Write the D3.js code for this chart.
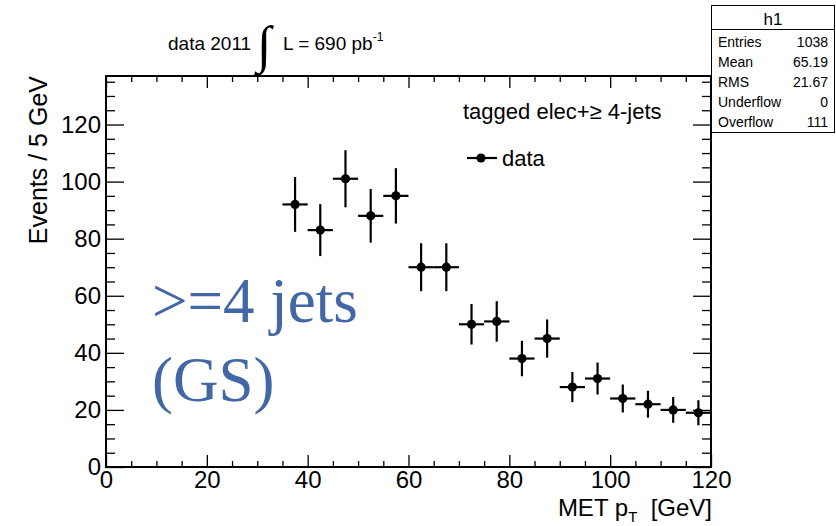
<!DOCTYPE html>
<html><head><meta charset="utf-8">
<script src="https://cdn.jsdelivr.net/npm/d3@7"></script>
<style>body{margin:0;background:#fff}svg{display:block}</style>
</head><body>
<svg id="c" width="836" height="526"></svg>
<script>
// ---- data ----
const binCenters = [37.5,42.5,47.5,52.5,57.5,62.5,67.5,72.5,77.5,82.5,87.5,92.5,97.5,102.5,107.5,112.5,117.5];
const counts     = [92,83,101,88,95,70,70,50,51,38,45,28,31,24,22,20,19];
const errors     = [9.6,9.1,10.0,9.4,9.7,8.4,8.4,7.1,7.1,6.2,6.7,5.3,5.6,4.9,4.7,4.5,4.4];
const binHalfWidth = 2.5;
const xMajorTicks = [0,20,40,60,80,100,120];
const yMajorTicks = [0,20,40,60,80,100,120];
const statLabels = ["Entries","Mean","RMS","Underflow","Overflow"];
const statValues = ["1038","65.19","21.67","0","111"];

const svg = d3.select("#c");
const F = "'Liberation Sans', Arial, Helvetica, sans-serif";
const L=106, R=711, T=76, B=467;
const x = d3.scaleLinear().domain([0,120]).range([L,R]);
const y = d3.scaleLinear().domain([0,137]).range([B,T]);

const xMinor = d3.range(0,121,5).filter(v=>v%20!==0);
const yMinor = d3.range(0,137,5).filter(v=>v%20!==0);

function styleAxis(g){ g.select(".domain").remove(); g.selectAll(".tick line").attr("stroke","#000").attr("stroke-width",1.3); g.selectAll("text").attr("font-family",F).attr("font-size",24).attr("fill","#000"); }

// bottom
svg.append("g").attr("transform",`translate(0,${B})`)
  .call(d3.axisBottom(x).tickValues(xMajorTicks).tickSizeInner(-12).tickSizeOuter(0).tickPadding(4).tickFormat(d3.format("d"))).call(styleAxis);
svg.append("g").attr("transform",`translate(0,${B})`)
  .call(d3.axisBottom(x).tickValues(xMinor).tickSizeInner(-6).tickSizeOuter(0).tickFormat("")).call(styleAxis);
// top
svg.append("g").attr("transform",`translate(0,${T})`)
  .call(d3.axisTop(x).tickValues(xMajorTicks).tickSizeInner(-12).tickSizeOuter(0).tickFormat("")).call(styleAxis);
svg.append("g").attr("transform",`translate(0,${T})`)
  .call(d3.axisTop(x).tickValues(xMinor).tickSizeInner(-6).tickSizeOuter(0).tickFormat("")).call(styleAxis);
// left
svg.append("g").attr("transform",`translate(${L},0)`)
  .call(d3.axisLeft(y).tickValues(yMajorTicks).tickSizeInner(-18).tickSizeOuter(0).tickPadding(5).tickFormat(d3.format("d"))).call(styleAxis);
svg.append("g").attr("transform",`translate(${L},0)`)
  .call(d3.axisLeft(y).tickValues(yMinor).tickSizeInner(-9).tickSizeOuter(0).tickFormat("")).call(styleAxis);
// right
svg.append("g").attr("transform",`translate(${R},0)`)
  .call(d3.axisRight(y).tickValues(yMajorTicks).tickSizeInner(-18).tickSizeOuter(0).tickFormat("")).call(styleAxis);
svg.append("g").attr("transform",`translate(${R},0)`)
  .call(d3.axisRight(y).tickValues(yMinor).tickSizeInner(-9).tickSizeOuter(0).tickFormat("")).call(styleAxis);

// frame
svg.append("rect").attr("x",L).attr("y",T).attr("width",R-L).attr("height",B-T)
  .attr("fill","none").attr("stroke","#000").attr("stroke-width",2);

// data points
const pts = binCenters.map((c,i)=>({c, v:counts[i], e:errors[i]}));
const gp = svg.append("g");
gp.selectAll(".eh").data(pts).join("line")
  .attr("x1",d=>x(d.c-binHalfWidth)).attr("x2",d=>x(d.c+binHalfWidth))
  .attr("y1",d=>y(d.v)).attr("y2",d=>y(d.v)).attr("stroke","#000").attr("stroke-width",2.2);
gp.selectAll(".ev").data(pts).join("line")
  .attr("x1",d=>x(d.c)).attr("x2",d=>x(d.c))
  .attr("y1",d=>y(d.v-d.e)).attr("y2",d=>y(d.v+d.e)).attr("stroke","#000").attr("stroke-width",2.2);
gp.selectAll("circle").data(pts).join("circle")
  .attr("cx",d=>x(d.c)).attr("cy",d=>y(d.v)).attr("r",4.6).attr("fill","#000");

// axis titles
svg.append("text").attr("transform","translate(47,76) rotate(-90)").attr("text-anchor","end")
  .attr("font-family",F).attr("font-size",25).text("Events / 5 GeV");
const xt = svg.append("text").attr("x",712).attr("y",516).attr("text-anchor","end")
  .attr("font-family",F).attr("font-size",24);
xt.append("tspan").text("MET p");
xt.append("tspan").attr("font-size",15).attr("dy",6).text("T");
xt.append("tspan").attr("dy",-6).text("\u00a0 [GeV]");

// top title
const tt = svg.append("g").attr("font-family",F);
tt.append("text").attr("x",168).attr("y",50).attr("font-size",19).text("data 2011");
tt.append("text").attr("x",257).attr("y",62).attr("font-size",52).attr("font-family","'Liberation Serif', serif").text("\u222B");
const t2 = tt.append("text").attr("x",283).attr("y",50).attr("font-size",19);
t2.append("tspan").text("L = 690 pb");
t2.append("tspan").attr("font-size",12).attr("dy",-9).text("-1");

// legend
svg.append("text").attr("x",463).attr("y",119).attr("font-family",F).attr("font-size",22).text("tagged elec+\u2265 4-jets");
svg.append("line").attr("x1",467).attr("x2",497).attr("y1",158).attr("y2",158).attr("stroke","#000").attr("stroke-width",2.2);
svg.append("circle").attr("cx",481).attr("cy",158).attr("r",4.6).attr("fill","#000");
svg.append("text").attr("x",502).attr("y",166).attr("font-family",F).attr("font-size",22).text("data");

// annotation
const ann = svg.append("g").attr("font-family","'Liberation Serif', 'Times New Roman', serif").attr("font-size",63).attr("fill","#4267a6");
ann.append("text").attr("x",152).attr("y",322).text(">=4 jets");
ann.append("text").attr("x",152).attr("y",401).text("(GS)");

// stats box
const sb = svg.append("g").attr("font-family",F);
sb.append("rect").attr("x",711.5).attr("y",5.5).attr("width",123).attr("height",127).attr("fill","#fff").attr("stroke","#000").attr("stroke-width",1);
sb.append("line").attr("x1",711.5).attr("x2",834.5).attr("y1",29.5).attr("y2",29.5).attr("stroke","#000").attr("stroke-width",1);
sb.append("text").attr("x",773).attr("y",25).attr("text-anchor","middle").attr("font-size",17).text("h1");
const rowY = d3.scaleLinear().domain([0,4]).range([47,127]);
sb.selectAll(".sl").data(statLabels).join("text").attr("x",718).attr("y",(d,i)=>rowY(i)).attr("font-size",14).text(d=>d);
sb.selectAll(".sv").data(statValues).join("text").attr("x",828).attr("y",(d,i)=>rowY(i)).attr("text-anchor","end").attr("font-size",14).text(d=>d);
</script>
</body></html>
